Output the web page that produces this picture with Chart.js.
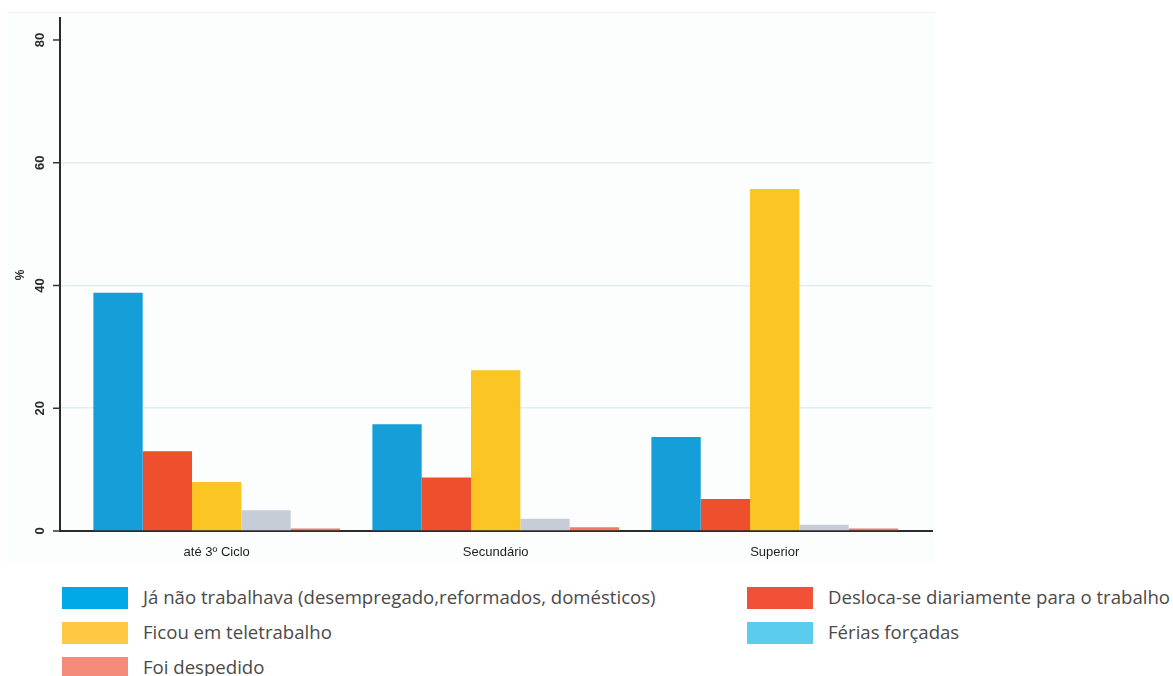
<!DOCTYPE html>
<html>
<head>
<meta charset="utf-8">
<script src="https://cdn.jsdelivr.net/npm/chart.js@4"></script>
<style>
    body { margin: 0; background: #fff; width: 1173px; height: 676px; overflow: hidden; position: relative; }
    #frame { position: absolute; left: 7px; top: 12px; width: 928px; height: 552px; background: #fcfdfd; border-top: 1px solid #eef2f4; }
    #wrap { position: absolute; left: 0; top: 0; width: 940px; height: 570px; }
    .legend { position: absolute; font-family: "Open Sans", sans-serif; font-size: 18.6px; color: #4a4a4a; }
    .item { position: absolute; white-space: nowrap; height: 22px; line-height: 22px; }
    .sw { position: absolute; left: 0; top: 0; width: 66px; height: 22px; }
    .lbl { position: absolute; top: -1px; }
</style>
</head>
<body>
<div id="frame"></div>
<div id="wrap"><canvas id="chart" width="940" height="570"></canvas></div>
<div class="legend" id="legend"></div>
<script>
    // Data
    const categories = ['até 3º Ciclo', 'Secundário', 'Superior'];
    const seriesNames = [
        'Já não trabalhava (desempregado,reformados, domésticos)',
        'Desloca-se diariamente para o trabalho',
        'Ficou em teletrabalho',
        'Férias forçadas',
        'Foi despedido'
    ];
    const jaNaoTrabalhava = [38.8, 17.4, 15.3];
    const deslocaSe = [13.0, 8.7, 5.2];
    const teletrabalho = [8.0, 26.2, 55.7];
    const feriasForcadas = [3.4, 2.0, 1.0];
    const despedido = [0.4, 0.6, 0.4];
    const yTicks = [0, 20, 40, 60, 80];

    const barColors = ['#169ed9', '#ee4f2c', '#fbc523', '#c7cdd6', '#ef7a66'];
    const legendColors = ['#00a9e6', '#f15237', '#ffc845', '#5bcbee', '#f58b7b'];
    const allSeries = [jaNaoTrabalhava, deslocaSe, teletrabalho, feriasForcadas, despedido];

    const datasets = allSeries.map((values, i) => ({
        label: seriesNames[i],
        data: values.map((v, idx) => ({ x: idx, y: v })),
        backgroundColor: barColors[i],
        borderWidth: 0,
        categoryPercentage: 0.884,
        barPercentage: 1
    }));

    // Rotated y tick labels, tick marks and "%" title
    const yAxisText = {
        id: 'yAxisText',
        afterDraw(chart) {
            const ctx = chart.ctx;
            const y = chart.scales.y;
            const left = chart.chartArea.left;
            ctx.save();
            ctx.strokeStyle = '#333';
            ctx.lineWidth = 1.5;
            ctx.fillStyle = '#2a2a2a';
            ctx.font = 'bold 13px "Liberation Sans", Arial, sans-serif';
            ctx.textAlign = 'center';
            ctx.textBaseline = 'middle';
            yTicks.forEach(t => {
                const py = y.getPixelForValue(t);
                ctx.beginPath();
                ctx.moveTo(left - 7, py);
                ctx.lineTo(left, py);
                ctx.stroke();
                ctx.save();
                ctx.translate(40, py);
                ctx.rotate(-Math.PI / 2);
                ctx.fillText(String(t), 0, 0);
                ctx.restore();
            });
            ctx.save();
            ctx.translate(21, 275);
            ctx.rotate(-Math.PI / 2);
            ctx.font = 'bold 12px "Liberation Sans", Arial, sans-serif';
            ctx.fillText('%', 0, 0);
            ctx.restore();
            ctx.restore();
        }
    };

    new Chart(document.getElementById('chart'), {
        type: 'bar',
        data: { datasets: datasets },
        options: {
            responsive: false,
            animation: false,
            layout: { padding: { top: 18, right: 8, left: 0, bottom: 0 } },
            plugins: {
                legend: { display: false },
                tooltip: { enabled: false }
            },
            scales: {
                x: {
                    type: 'linear',
                    offset: false,
                    min: -0.5616,
                    max: 2.5638,
                    afterBuildTicks: scale => { scale.ticks = categories.map((c, i) => ({ value: i })); },
                    afterFit: scale => { scale.height = 39; },
                    grid: { display: false },
                    border: { color: '#2b2b2b', width: 2 },
                    ticks: {
                        padding: 6,
                        color: '#1e1e1e',
                        font: { family: '"Liberation Sans", Arial, sans-serif', size: 13 },
                        callback: v => categories[v] || ''
                    }
                },
                y: {
                    min: 0,
                    max: 83.58,
                    afterFit: scale => { scale.width = 60; },
                    afterBuildTicks: scale => { scale.ticks = yTicks.map(v => ({ value: v })); },
                    ticks: { display: false },
                    grid: {
                        drawTicks: false,
                        lineWidth: 1.5,
                        color: c => (c.tick && (c.tick.value === 0 || c.tick.value === 80)) ? 'rgba(0,0,0,0)' : '#e0eef5'
                    },
                    border: { color: '#2b2b2b', width: 2 }
                }
            }
        },
        plugins: [yAxisText]
    });

    // HTML legend in two columns
    const legendPos = [
        [62, 587], [747, 587],
        [62, 622], [747, 622],
        [62, 657]
    ];
    const legendEl = document.getElementById('legend');
    seriesNames.forEach((name, i) => {
        const item = document.createElement('div');
        item.className = 'item';
        item.style.left = legendPos[i][0] + 'px';
        item.style.top = legendPos[i][1] + 'px';
        item.innerHTML = `<span class="sw" style="background:${legendColors[i]}"></span><span class="lbl" style="left:81px">${name}</span>`;
        legendEl.appendChild(item);
    });
</script>
</body>
</html>
